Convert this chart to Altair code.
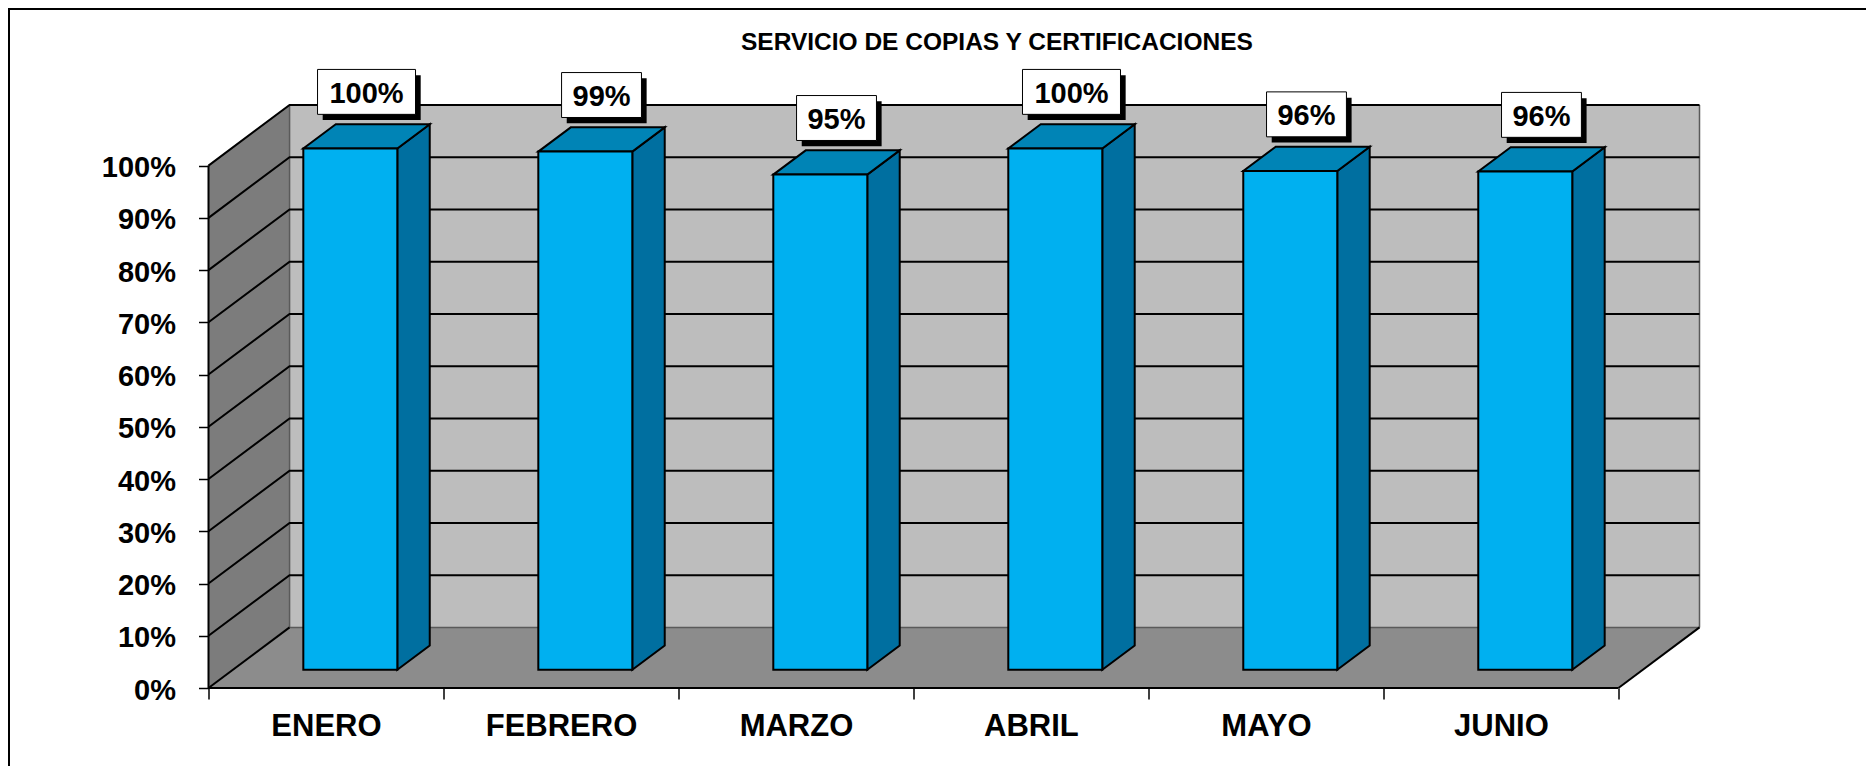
import altair as alt
import pandas as pd

months = ["ENERO", "FEBRERO", "MARZO", "ABRIL", "MAYO", "JUNIO"]
values = [99.8, 99.2, 94.8, 99.8, 95.5, 95.4]
labels = ["100%", "99%", "95%", "100%", "96%", "96%"]
y_ticks = [0, 10, 20, 30, 40, 50, 60, 70, 80, 90, 100]
title_text = "SERVICIO DE COPIAS Y CERTIFICACIONES"

FONT = "Liberation Sans"
DX, DY = 0.345, 11.6      # oblique depth of the box, in axis units
BAR_HALF = 0.2
D0, D1 = 0.3, 0.7         # bar position inside the depth
BOX_LIFT = 10.83
BOX_W3, BOX_W2, BOX_H = 0.417, 0.34, 8.6   # value box size, in axis units
SH_X, SH_Y = 0.022, 1.1                    # value box shadow offset, in axis units
TITLE_X, TITLE_Y = 3.355, 123.4            # title anchor, in axis units
N = len(months)
XMAX, YMAX = N + DX, 100 + DY

x_scale = alt.Scale(domain=[0, XMAX], nice=False, zero=False)
y_scale = alt.Scale(domain=[0, YMAX], nice=False, zero=False)
X = lambda f="x", **k: alt.X(f"{f}:Q", scale=x_scale, title=None, **k)
Y = lambda f="y", **k: alt.Y(f"{f}:Q", scale=y_scale, title=None, **k)

x_tick_vals = [i / 2 for i in range(2 * N + 1)]
label_lookup = "{" + ",".join(f"'{i}':'{m}'" for i, m in enumerate(months)) + "}"
x_axis = alt.Axis(
    values=x_tick_vals, domain=False, grid=False,
    labelExpr=f"datum.value % 1 == 0 ? '' : {label_lookup}[floor(datum.value)]",
    tickSize=11, tickWidth=1.5, tickColor="#000000",
    tickOpacity={"condition": {"test": "datum.value % 1 == 0", "value": 1}, "value": 0},
    labelFont=FONT, labelFontSize=31, labelFontWeight="bold", labelColor="#000000",
    labelPadding=12, labelOverlap=False, labelFlush=False, labelBound=False,
)
y_axis = alt.Axis(
    values=y_ticks, domain=False, grid=False, labelExpr="datum.value + '%'",
    tickSize=10, tickWidth=1.5, tickColor="#000000",
    labelFont=FONT, labelFontSize=29, labelFontWeight="bold", labelColor="#000000",
    labelPadding=23, labelOffset=2, labelOverlap=False, labelFlush=False, labelBound=False,
)

# walls and floor -----------------------------------------------------------
back = alt.Chart(pd.DataFrame({"x": [DX], "x2": [XMAX], "y": [DY], "y2": [YMAX]})).mark_rect(
    color="#BDBDBD"
).encode(x=X(axis=x_axis), x2="x2:Q", y=Y(axis=y_axis), y2="y2:Q")

left = alt.Chart(pd.DataFrame({"x": [0, DX], "y": [0, DY], "y2": [100, YMAX]})).mark_area(
    color="#7C7C7C", orient="vertical"
).encode(x=X(), y=Y(), y2="y2:Q")

floor = alt.Chart(pd.DataFrame({"y": [0, DY], "x": [0, DX], "x2": [N, XMAX]})).mark_area(
    color="#8C8C8C", orient="horizontal"
).encode(y=Y(), x=X(), x2="x2:Q")

# lines ---------------------------------------------------------------------
def polyline(name, pts):
    return [{"k": name, "o": i, "x": p[0], "y": p[1]} for i, p in enumerate(pts)]

grid_rows = []
for v in y_ticks[1:]:
    grid_rows += polyline(f"g{v}", [(0, v), (DX, v + DY), (XMAX, v + DY)])
grid_rows += polyline("diagL", [(0, 0), (DX, DY)])
grid_rows += polyline("diagR", [(N, 0), (XMAX, DY)])
grid_rows += polyline("front", [(0, 0), (N, 0)])
grid_rows += polyline("leftedge", [(0, 0), (0, 100)])
grid = alt.Chart(pd.DataFrame(grid_rows)).mark_line(color="#000000", strokeWidth=2).encode(
    x=X(), y=Y(), detail="k:N", order="o:Q"
)
soft_rows = polyline("floorback", [(DX, DY), (XMAX, DY)]) + polyline("wallR", [(XMAX, DY), (XMAX, YMAX)]) \
    + polyline("wallL", [(DX, DY), (DX, YMAX)])
soft = alt.Chart(pd.DataFrame(soft_rows)).mark_line(color="#5A5A5A", strokeWidth=1.5).encode(
    x=X(), y=Y(), detail="k:N", order="o:Q"
)

# bars ----------------------------------------------------------------------
front_rows, side_rows, top_rows, box_rows = [], [], [], []
for i, (m, v, lab) in enumerate(zip(months, values, labels)):
    c = i + 0.5
    xl, xr = c - BAR_HALF + D0 * DX, c + BAR_HALF + D0 * DX
    y0 = D0 * DY
    front_rows.append({"m": m, "x": xl, "x2": xr, "y": y0, "y2": y0 + v})
    dd = (D1 - D0)
    side_rows += [
        {"m": m, "x": xr, "y": y0, "y2": y0 + v},
        {"m": m, "x": xr + dd * DX, "y": y0 + dd * DY, "y2": y0 + v + dd * DY},
    ]
    top_rows += [
        {"m": m, "y": y0 + v, "x": xl, "x2": xr},
        {"m": m, "y": y0 + v + dd * DY, "x": xl + dd * DX, "x2": xr + dd * DX},
    ]
    bc, by = c + 0.5 * DX, y0 + v + BOX_LIFT
    hw = (BOX_W3 if len(lab) == 4 else BOX_W2) / 2
    box_rows.append({"m": m, "tx": bc, "ty": by, "t": lab,
                     "x": bc - hw, "x2": bc + hw, "y": by - BOX_H / 2, "y2": by + BOX_H / 2,
                     "sx": bc - hw + SH_X, "sx2": bc + hw + SH_X, "sy": by - BOX_H / 2 - SH_Y, "sy2": by + BOX_H / 2 - SH_Y})

OUTLINE = dict(stroke="#000000", strokeWidth=2, strokeJoin="miter")
side = alt.Chart(pd.DataFrame(side_rows)).mark_area(
    fill="#006FA0", orient="vertical", **OUTLINE
).encode(x=X(), y=Y(), y2="y2:Q", detail="m:N")
top = alt.Chart(pd.DataFrame(top_rows)).mark_area(
    fill="#0084B6", orient="horizontal", **OUTLINE
).encode(y=Y(), x=X(), x2="x2:Q", detail="m:N")
front = alt.Chart(pd.DataFrame(front_rows)).mark_rect(
    fill="#00B0F0", **OUTLINE
).encode(x=X(), x2="x2:Q", y=Y(), y2="y2:Q")

# value boxes ---------------------------------------------------------------
box_base = alt.Chart(pd.DataFrame(box_rows))
shadow = box_base.mark_rect(color="#000000").encode(x=X("sx"), x2="sx2:Q", y=Y("sy"), y2="sy2:Q")
box = box_base.mark_rect(fill="#FFFFFF", stroke="#000000", strokeWidth=1).encode(
    x=X(), x2="x2:Q", y=Y(), y2="y2:Q"
)
box_text = box_base.mark_text(
    font=FONT, fontSize=29, fontWeight="bold", color="#000000", baseline="middle", align="center", dy=2
).encode(x=X("tx"), y=Y("ty"), text="t:N")

# title ---------------------------------------------------------------------
title = alt.Chart(pd.DataFrame({"x": [TITLE_X], "y": [TITLE_Y], "t": [title_text]})).mark_text(
    font=FONT, fontSize=24.5, fontWeight="bold", color="#000000", baseline="middle", align="center"
).encode(x=X(), y=Y(), text="t:N")

# page frame (top and left only) ---------------------------------------------
frame_top = alt.Chart(pd.DataFrame({"a": [0]})).mark_rule(color="#000000", strokeWidth=2).encode(
    x=alt.value(-200.5), x2=alt.value(1657.5), y=alt.value(-96)
)
frame_left = alt.Chart(pd.DataFrame({"a": [0]})).mark_rule(color="#000000", strokeWidth=2).encode(
    x=alt.value(-199.5), y=alt.value(-97), y2=alt.value(662)
)

chart = alt.layer(
    back, left, floor, soft, grid, side, top, front, shadow, box, box_text, title, frame_top, frame_left
).properties(
    width=1491, height=583,
    padding={"left": 200.5, "top": 97, "right": 166.5, "bottom": 78},
    autosize=alt.AutoSizeParams(type="none"),
    background="#FFFFFF",
).configure_view(stroke=None)

chart.save("out.html", embed_options={"renderer": "svg", "actions": False})
